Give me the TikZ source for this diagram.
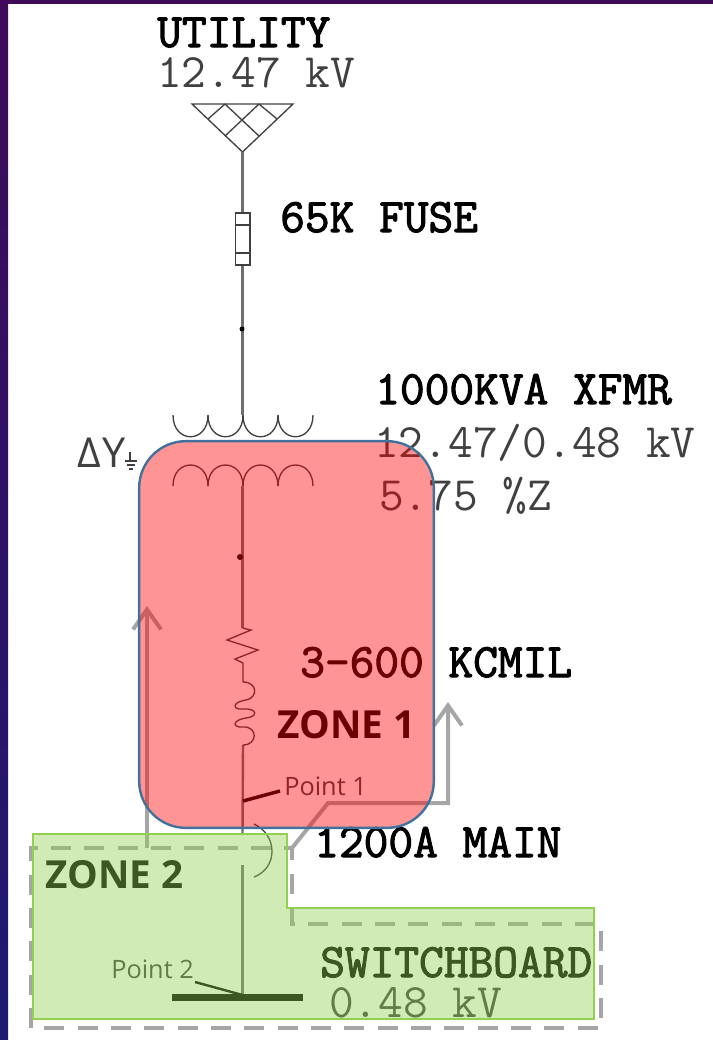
\documentclass[tikz,border=0pt]{standalone}
\usepackage{fontspec}
\setsansfont{Open Sans}
\newfontfamily\ratingheavy{Latin Modern Mono}[FakeBold=2.2]
\usepackage{xcolor}
\usepackage{tikz}
\definecolor{SLDline}{HTML}{404040}
\definecolor{SLDwire}{HTML}{6E6E6E}
\definecolor{SLDgrey}{HTML}{A6A6A6}
\definecolor{ZONEred}{HTML}{FF0000}
\definecolor{ZONEblue}{HTML}{41719C}
\definecolor{ZONEgreen}{HTML}{92D050}
\definecolor{SLIDEpurple}{HTML}{3F0A5A}
\definecolor{SLIDEnavy}{HTML}{1E1A70}
\usetikzlibrary{arrows.meta}
\tikzset{
    ratingbold/.style={anchor=base west,inner sep=0pt,font=\ratingheavy\fontsize{36}{36}\selectfont},
    ratingthin/.style={anchor=base west,inner sep=0pt,text=SLDline,font=\ttfamily\fontsize{36}{36}\selectfont},
    zonetitle/.style={anchor=base west,inner sep=0pt,font=\sffamily\bfseries\fontsize{29}{29}\selectfont},
    pointtitle/.style={anchor=base west,inner sep=0pt,text=SLDline,font=\sffamily\fontsize{19}{19}\selectfont},
    wire/.style={draw=SLDwire,line width=1.8pt},
    thinwire/.style={draw=SLDline,line width=1pt},
    greyarrow/.style={draw=SLDgrey,line width=3pt,-{Straight Barb[length=15pt,width=21pt,line width=3pt]}},
}

\begin{document}
\begin{tikzpicture}[x=0.75pt,y=-0.75pt]
    \useasboundingbox (0,0) rectangle (713,1040);
    \fill[top color=SLIDEpurple,bottom color=SLIDEnavy] (0,0) rectangle (8,1040);
    \fill[SLIDEpurple] (0,0) rectangle (713,4);

    % dashed boundary and current arrows sit under the zones
    \draw[SLDgrey,line width=3pt,dash pattern=on 15pt off 10pt]
        (31,1028) -- (31,848) -- (292,848) -- (292,924) -- (601,924) -- (601,1028) -- cycle;
    \coordinate (leftfoot) at (147,848);
    \coordinate (lefttip) at (147,606);
    \coordinate (rightfoot) at (292,848);
    \coordinate (rightbend) at (328,803);
    \coordinate (rightcorner) at (448,803);
    \coordinate (righttip) at (448,702);
    \draw[greyarrow] (leftfoot) -- (lefttip);
    \draw[greyarrow] (rightfoot) -- (rightbend) -- (rightcorner) -- (righttip);

    \node[ratingbold] (utility) at (157,47) {UTILITY};
    \node[ratingthin] (utilitykv) at (157,87) {12.47 kV};
    \node[ratingbold] (fuselabel) at (280,232) {65K FUSE};
    \node[ratingbold] (xfmrlabel) at (375,404) {1000KVA XFMR};
    \node[ratingthin] (xfmrkv) at (374,457) {12.47/0.48 kV};
    \node[ratingthin] (xfmrz) at (379,510) {5.75 \%Z};
    \node[ratingbold] (cablelabel) at (300,677) {3-600 KCMIL};
    \node[ratingbold] (mainlabel) at (314,857) {1200A MAIN};
    \node[ratingbold] (boardlabel) at (320,977) {SWITCHBOARD};
    \node[ratingthin] (boardkv) at (329,1017) {0.48 kV};
    \node[zonetitle] (zoneonelabel) at (277,738) {ZONE 1};
    \node[zonetitle] (zonetwolabel) at (45,888) {ZONE 2};
    \node[pointtitle] (pointone) at (284,795) {Point 1};
    \node[pointtitle] (pointtwo) at (111,978) {Point 2};
    \node[anchor=base west,inner sep=0pt,text=SLDline,font=\sffamily\fontsize{31}{31}\selectfont] (deltawye) at (77,467) {Δ\hspace{1pt}Y};

    % ground mark of the wye
    \coordinate (groundtop) at (130,452);
    \coordinate (groundstem) at (130,461);
    \draw[thinwire] (groundtop) -- (groundstem);
    \draw[thinwire] (125,461) -- (137,461) (127,465) -- (135,465) (129,469) -- (133,469);

    % utility source
    \coordinate (sourceleft) at (192,104);
    \coordinate (sourceright) at (293,104);
    \coordinate (sourcetip) at (242.5,152);
    \draw[thinwire] (sourceleft) -- (sourceright) -- (sourcetip) -- cycle;
    \draw[thinwire] (225,104) -- (259,136) (259,104) -- (225,136);
    \draw[thinwire] (208,119) -- (225,104) (277,119) -- (259,104);

    % fuse and primary
    \node[draw=SLDline,line width=1pt,minimum width=11pt,minimum height=39pt,inner sep=0pt] (fuse) at (242.5,239) {};
    \draw[thinwire] (235,225) -- (250,225) (235,253) -- (250,253);
    \coordinate (primarytap) at (242.5,415);
    \draw[wire] (sourcetip) -- (fuse.north);
    \draw[wire] (fuse.south) -- (primarytap);
    \fill[black] (242,329) circle (2.5);
    \foreach \x in {173,208,243,278}
        \draw[thinwire] (\x,415) .. controls (\x,444) and (\x+35,444) .. (\x+35,415);

    % secondary
    \foreach \x in {173,208,243,278}
        \draw[thinwire] (\x,486) .. controls (\x,458) and (\x+35,458) .. (\x+35,486);
    \coordinate (secondarytap) at (242.5,486);
    \coordinate (zigtop) at (242.5,628);
    \coordinate (coiltop) at (243,682);
    \coordinate (coilbottom) at (243,745);
    \coordinate (mainin) at (242.5,835);
    \coordinate (mainout) at (242.5,865);
    \coordinate (busbarleft) at (172,997.5);
    \coordinate (busbarright) at (303,997.5);
    \coordinate (busbartap) at (242.5,995);
    \draw[wire] (secondarytap) -- (zigtop);
    \draw[wire] (coilbottom) -- (mainin);
    \draw[wire] (mainout) -- (busbartap);
    \fill[black] (240,557) circle (3);
    \draw[thinwire] (zigtop) -- (251,630) -- (227,640) -- (258,650) -- (235,659) -- (243,663) -- (coiltop);
    \draw[thinwire] (coiltop) .. controls (258,682) and (258,698) .. (246,700)
        .. controls (232,702) and (232,710) .. (243,709)
        .. controls (258,708) and (258,717) .. (246,718)
        .. controls (232,720) and (232,728) .. (243,727)
        .. controls (258,726) and (258,745) .. (coilbottom);

    % breaker, ticks and busbar
    \draw[thinwire] (254,824) .. controls (278,835) and (278,868) .. (254,877);
    \coordinate (tickone) at (243,801);
    \draw[black,line width=2.6pt] (tickone) -- (280,791);
    \draw[black,line width=1.8pt] (busbartap) -- (195,982);
    \draw[black,line width=5pt] (busbarleft) -- (busbarright);

    % the two zones
    \node[draw=ZONEblue,line width=1.8pt,fill=ZONEred,fill opacity=.42,rounded corners=35pt,minimum width=221pt,minimum height=290pt,inner sep=0pt] (zoneone) at (286.5,634.5) {};
    \draw[ZONEgreen,line width=2pt,fill=ZONEgreen,fill opacity=.42]
        (33,834) -- (287,834) -- (287,908) -- (594,908) -- (594,1019) -- (33,1019) -- cycle;
\end{tikzpicture}
\end{document}
